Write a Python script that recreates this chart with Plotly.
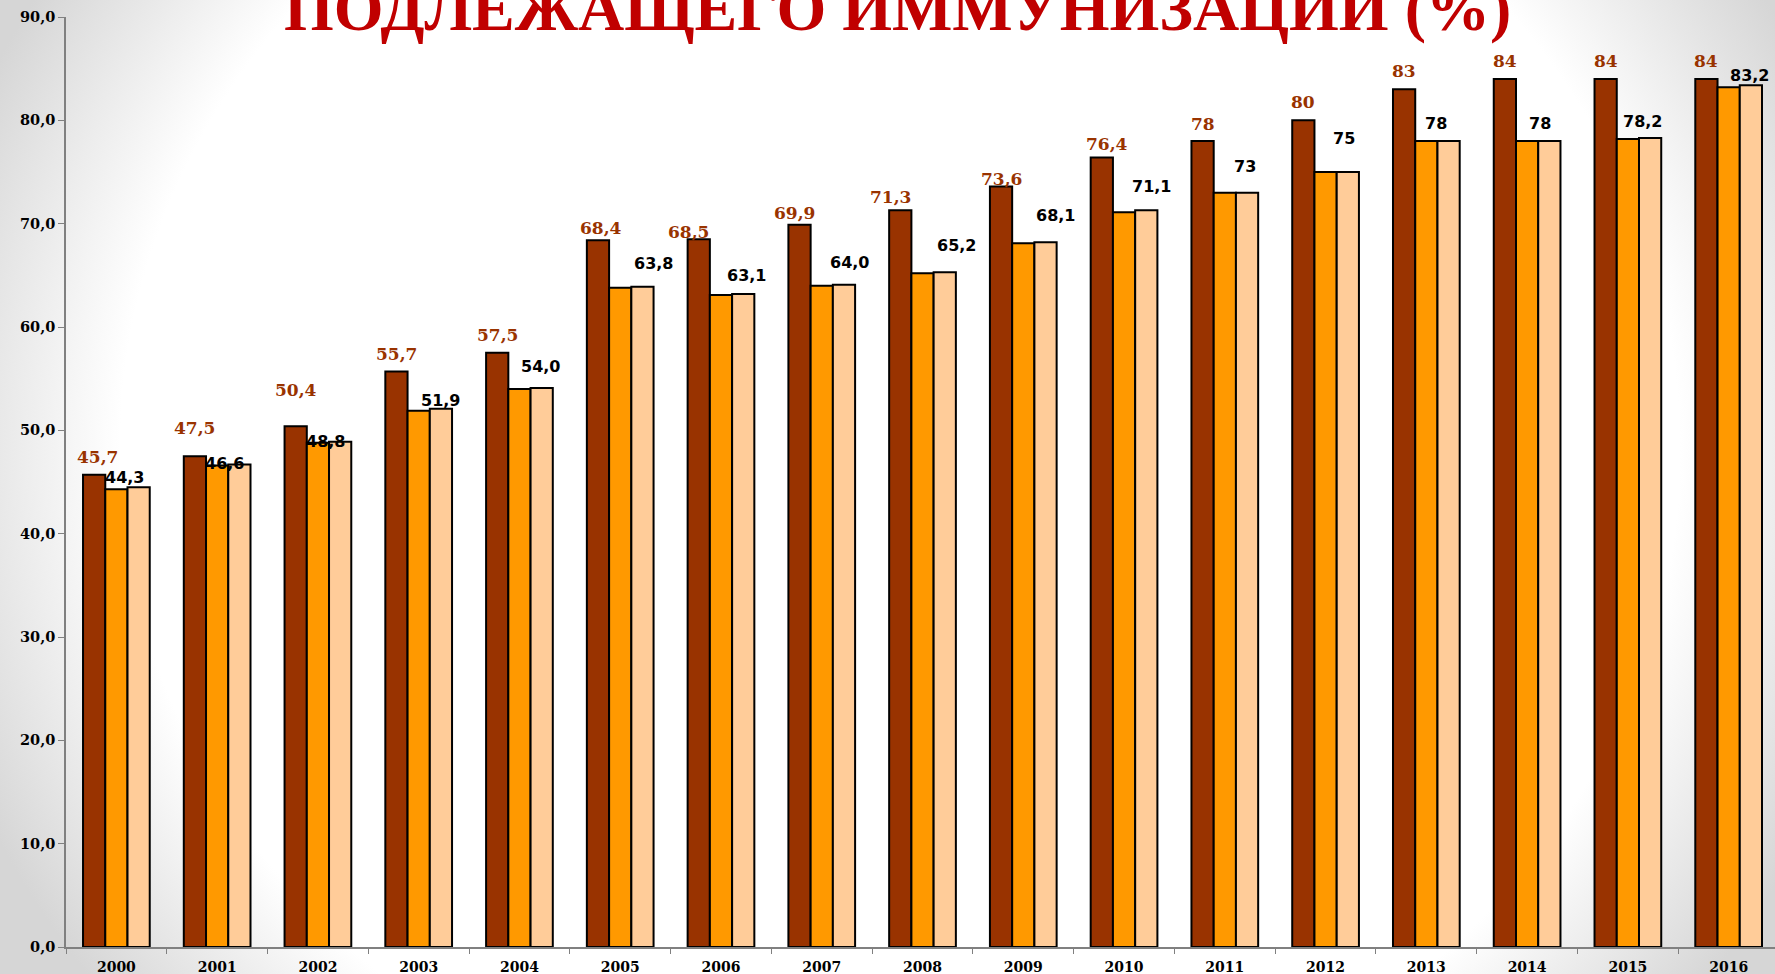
import base64
import plotly.graph_objects as go

years = ["2000", "2001", "2002", "2003", "2004", "2005", "2006", "2007", "2008",
         "2009", "2010", "2011", "2012", "2013", "2014", "2015", "2016"]
series_dark = [45.7, 47.5, 50.4, 55.7, 57.5, 68.4, 68.5, 69.9, 71.3, 73.6, 76.4,
               78, 80, 83, 84, 84, 84]
series_orange = [44.3, 46.6, 48.8, 51.9, 54.0, 63.8, 63.1, 64.0, 65.2, 68.1, 71.1,
                 73, 75, 78, 78, 78.2, 83.2]
series_peach = [44.5, 46.7, 48.9, 52.1, 54.1, 63.9, 63.2, 64.1, 65.3, 68.2, 71.3,
                73, 75, 78, 78, 78.3, 83.4]
dark_labels = ["45,7", "47,5", "50,4", "55,7", "57,5", "68,4", "68,5", "69,9", "71,3",
               "73,6", "76,4", "78", "80", "83", "84", "84", "84"]
black_labels = ["44,3", "46,6", "48,8", "51,9", "54,0", "63,8", "63,1", "64,0", "65,2",
                "68,1", "71,1", "73", "75", "78", "78", "78,2", "83,2"]
y_ticks = [0, 10, 20, 30, 40, 50, 60, 70, 80, 90]
y_tick_text = ["0,0", "10,0", "20,0", "30,0", "40,0", "50,0", "60,0", "70,0", "80,0", "90,0"]
title_text = "ПОДЛЕЖАЩЕГО ИММУНИЗАЦИИ (%)"

# label placement offsets in pixels (style, not data)
dark_dx = [3, 0, 0, 0, 0, 3, -10, -5, -10, 0, 5, 0, 0, 0, 0, 0, 0]
dark_dy = [18, 28, 36, 17, 18, 12, 7, 12, 13, 7, 14, 17, 18, 18, 18, 18, 18]
black_dx = [-3, -4, -4, 11, 10, 22, 14, 17, 23, 21, 16, 9, 7, -1, 2, 4, 10]
black_dy = [12, 2, 1, 10, 23, 24, 19, 23, 28, 28, 26, 26, 34, 18, 18, 17, 12]

colors = ["#993300", "#FF9900", "#FFCC99"]

fig = go.Figure()
for vals, col, name in zip([series_dark, series_orange, series_peach], colors,
                           ["s1", "s2", "s3"]):
    fig.add_trace(go.Bar(x=years, y=vals, name=name, marker=dict(
        color=col, line=dict(color="#000000", width=2)), showlegend=False))

ann = []
for i in range(len(years)):
    ann.append(dict(x=i - 0.22, y=series_dark[i], xref="x", yref="y", text=dark_labels[i],
                    showarrow=False, xanchor="center", yanchor="middle",
                    xshift=dark_dx[i], yshift=dark_dy[i],
                    font=dict(family="DejaVu Serif", size=17, color="#993300", weight="bold")))
    ann.append(dict(x=i + 0.11, y=series_orange[i], xref="x", yref="y", text=black_labels[i],
                    showarrow=False, xanchor="center", yanchor="middle",
                    xshift=black_dx[i], yshift=black_dy[i],
                    font=dict(family="DejaVu Sans", size=16, color="#000000", weight="bold")))
ann.append(dict(x=0.4863, y=1, xref="paper", yref="paper", text=title_text,
                showarrow=False, xanchor="center", yanchor="bottom", yshift=-29.5,
                font=dict(family="Liberation Serif", size=64, color="#C00000", weight="bold")))

svg = ("<svg xmlns='http://www.w3.org/2000/svg' width='1775' height='974'>"
       "<defs><radialGradient id='g' gradientUnits='userSpaceOnUse' cx='900' cy='450' r='1000' "
       "gradientTransform='translate(900 450) scale(1 0.9) translate(-900 -450)'>"
       "<stop offset='0.78' stop-color='#ffffff'/><stop offset='1.05' stop-color='#d6d6d6'/>"
       "</radialGradient></defs><rect width='1775' height='974' fill='url(#g)'/></svg>")
src = "data:image/svg+xml;base64," + base64.b64encode(svg.encode()).decode()

fig.update_layout(
    width=1775, height=974,
    margin=dict(l=66, r=0, t=17, b=27, autoexpand=False),
    paper_bgcolor="rgba(0,0,0,0)", plot_bgcolor="rgba(0,0,0,0)",
    barmode="group", bargap=0.338, bargroupgap=0,
    annotations=ann,
    images=[dict(source=src, xref="paper", yref="paper", x=-66 / 1709, y=1 + 17 / 930,
                 sizex=1775 / 1709, sizey=974 / 930, xanchor="left", yanchor="top",
                 sizing="stretch", layer="below")],
    xaxis=dict(type="category", range=[-0.5, 16.46], tickson="boundaries", ticks="outside",
               ticklen=5, tickcolor="#808080", showline=True, linecolor="#808080", linewidth=1.5,
               showgrid=False, automargin=False, ticklabelstandoff=6,
               tickfont=dict(family="DejaVu Serif", size=14, color="#000000", weight="bold")),
    yaxis=dict(range=[0, 90], tickvals=y_ticks, ticktext=y_tick_text, ticks="outside",
               ticklen=6, tickcolor="#808080", showline=True, linecolor="#808080", linewidth=1.5,
               showgrid=False, zeroline=False, automargin=False,
               tickfont=dict(family="DejaVu Serif", size=14.5, color="#000000", weight="bold")),
)
fig.write_html("out.html", config={"displayModeBar": False},
               post_script="document.body.style.margin='0';document.body.style.overflow='hidden';")
